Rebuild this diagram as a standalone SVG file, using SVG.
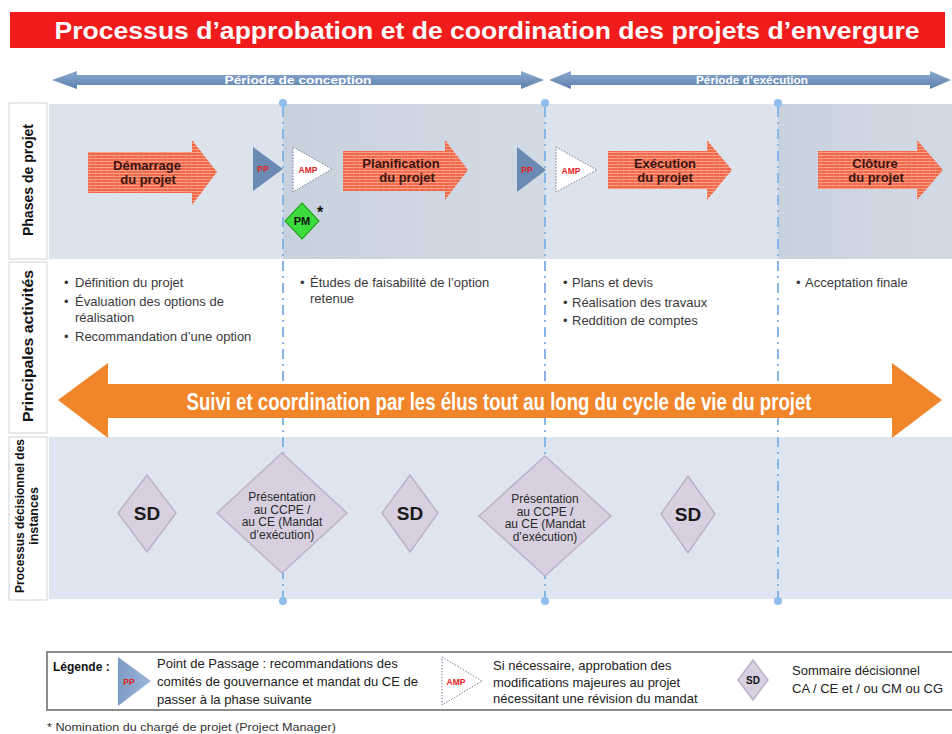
<svg xmlns="http://www.w3.org/2000/svg" width="952" height="734" viewBox="0 0 952 734">
<defs>
<pattern id="stripes" width="6" height="3" patternUnits="userSpaceOnUse">
<rect width="6" height="3" fill="#f1674a"/>
<rect y="2" width="6" height="1" fill="#f8a189"/>
<rect x="5" width="1" height="3" fill="#f58d73" opacity="0.6"/>
</pattern>
<linearGradient id="periodGrad" x1="0" y1="0" x2="0" y2="1">
<stop offset="0" stop-color="#8aa9d0"/><stop offset="1" stop-color="#5f81ad"/>
</linearGradient>
<linearGradient id="darkZone" x1="0" y1="0" x2="1" y2="0">
<stop offset="0" stop-color="#c8d2de"/><stop offset="1" stop-color="#d2dae5"/>
</linearGradient>
<linearGradient id="ppGrad" x1="0" y1="0" x2="1" y2="0">
<stop offset="0" stop-color="#7d9bc4"/><stop offset="1" stop-color="#9db7da"/>
</linearGradient>
</defs>
<style>
text{font-family:"Liberation Sans",Arial,Helvetica,sans-serif}
.lbl{font-weight:bold;fill:#111;text-anchor:middle}
.act{font-size:13px;fill:#3a3a3a}
.phase{font-weight:bold;font-size:13px;fill:#3b1510;text-anchor:middle}
.sd{font-size:19px;font-weight:bold;fill:#1a1a1a;text-anchor:middle}
.pres{font-size:12px;fill:#2a2a2a;text-anchor:middle}
.diamond{fill:#d8cfe0;stroke:#bdb3c9;stroke-width:1.5}
.pp{fill:#6b8ab3}
.amp{fill:#fff;stroke:#6f7f95;stroke-width:1;stroke-dasharray:1.5 1.5}
.red{fill:#e3221e;font-weight:bold;text-anchor:middle}
.divider{stroke:#86b6e8;stroke-width:2;stroke-dasharray:10 5 2 5;fill:none}
.dot{fill:#8ebdee}
.arrowPhase{fill:url(#stripes)}
.period{fill:url(#periodGrad)}
.ptext{font-size:11px;font-weight:bold;fill:#fff;text-anchor:middle}
.leg{font-size:13px;fill:#222}
.box{fill:#fff;stroke:#d2d2d2;stroke-width:1}
</style>

<g id="title">
<rect x="10" y="12" width="935" height="36" fill="#f01c1c"/>
<text x="487" y="39" font-size="24" font-weight="bold" fill="#fff" text-anchor="middle" textLength="865" lengthAdjust="spacingAndGlyphs">Processus d’approbation et de coordination des projets d’envergure</text>
</g>

<g id="periode-conception">
<path class="period" d="M52,80 L77,71 V75 H521 V71 L544,80 L521,89 V85 H77 V89 Z"/>
<text class="ptext" x="298" y="84" textLength="147" lengthAdjust="spacingAndGlyphs">Période de conception</text>
</g>
<g id="periode-execution">
<path class="period" d="M549,80 L571,71 V75 H930 V71 L951,80 L930,89 V85 H571 V89 Z"/>
<text class="ptext" x="752" y="84" textLength="112" lengthAdjust="spacingAndGlyphs">Période d’exécution</text>
</g>

<g id="lanes">
<rect x="49" y="104" width="903" height="155" fill="#dce3ec"/>
<rect x="283" y="104" width="262" height="155" fill="url(#darkZone)"/>
<rect x="778" y="104" width="174" height="155" fill="url(#darkZone)"/>
<rect x="49" y="437" width="903" height="162" fill="#dee5f0"/>
<rect class="box" x="9" y="103" width="38" height="156"/>
<rect class="box" x="9" y="262" width="38" height="171"/>
<rect class="box" x="9" y="437" width="38" height="163"/>
<text class="lbl" font-size="14" transform="translate(33,180) rotate(-90)">Phases de projet</text>
<text class="lbl" font-size="14" transform="translate(33,346) rotate(-90)" textLength="152" lengthAdjust="spacingAndGlyphs">Principales activités</text>
<text class="lbl" font-size="12.5" transform="translate(24,516) rotate(-90)" textLength="154" lengthAdjust="spacingAndGlyphs">Processus décisionnel des</text>
<text class="lbl" font-size="12.5" transform="translate(38,516) rotate(-90)">instances</text>
</g>

<g id="connectors">
<line class="divider" x1="283" y1="107" x2="283" y2="598"/>
<line class="divider" x1="545" y1="107" x2="545" y2="598"/>
<line class="divider" x1="778" y1="107" x2="778" y2="598"/>
<circle class="dot" cx="283" cy="103" r="4"/>
<circle class="dot" cx="545" cy="103" r="4"/>
<circle class="dot" cx="778" cy="103" r="4"/>
<circle class="dot" cx="283" cy="601" r="4"/>
<circle class="dot" cx="545" cy="601" r="4"/>
<circle class="dot" cx="778" cy="601" r="4"/>
</g>

<g id="demarrage">
<path class="arrowPhase" d="M88,152 H192 V140 L217,172 L192,205 V193 H88 Z"/>
<text class="phase" x="147" y="170">Démarrage</text>
<text class="phase" x="148" y="184">du projet</text>
</g>
<g id="planification">
<path class="arrowPhase" d="M343,151 H445 V140 L468,170 L445,200 V191 H343 Z"/>
<text class="phase" x="401" y="167.5">Planification</text>
<text class="phase" x="407" y="181.5">du projet</text>
</g>
<g id="execution">
<path class="arrowPhase" d="M608,151 H707 V140 L732,170 L707,200 V189 H608 Z"/>
<text class="phase" x="665" y="167.5">Exécution</text>
<text class="phase" x="665" y="181.5">du projet</text>
</g>
<g id="cloture">
<path class="arrowPhase" d="M818,151 H917 V140 L943,170 L917,200 V189 H818 Z"/>
<text class="phase" x="875" y="167.5">Clôture</text>
<text class="phase" x="876" y="181.5">du projet</text>
</g>

<g id="pp1">
<path class="pp" d="M253,147 L283,169 L253,191 Z"/>
<text class="red" x="263" y="172" font-size="8.5">PP</text>
</g>
<g id="amp1">
<path class="amp" d="M293,147 L332,169 L293,192 Z"/>
<text class="red" x="308" y="172.5" font-size="8.5">AMP</text>
</g>
<g id="pm">
<path d="M302,203 L319,221 L302,239 L285,221 Z" fill="#3ddc3d" stroke="#23a523" stroke-width="1.2"/>
<text x="302" y="225" font-size="11" font-weight="bold" fill="#111" text-anchor="middle">PM</text>
<text x="320" y="218" font-size="16" font-weight="bold" fill="#111" text-anchor="middle">*</text>
</g>
<g id="pp2">
<path class="pp" d="M517,147 L546,170 L517,192 Z"/>
<text class="red" x="527" y="173" font-size="8.5">PP</text>
</g>
<g id="amp2">
<path class="amp" d="M556,147 L597,170 L556,192 Z"/>
<text class="red" x="571" y="173.5" font-size="8.5">AMP</text>
</g>

<g id="activites-conception">
<text class="act" x="64" y="287">•</text><text class="act" x="75" y="287">Définition du projet</text>
<text class="act" x="64" y="306">•</text><text class="act" x="75" y="306">Évaluation des options de</text>
<text class="act" x="75" y="322">réalisation</text>
<text class="act" x="64" y="341">•</text><text class="act" x="75" y="341">Recommandation d’une option</text>
</g>
<g id="activites-planification">
<text class="act" x="300" y="287">•</text><text class="act" x="310" y="287">Études de faisabilité de l’option</text>
<text class="act" x="310" y="303">retenue</text>
</g>
<g id="activites-execution">
<text class="act" x="563" y="287">•</text><text class="act" x="572" y="287">Plans et devis</text>
<text class="act" x="563" y="306.5">•</text><text class="act" x="572" y="306.5">Réalisation des travaux</text>
<text class="act" x="563" y="325">•</text><text class="act" x="572" y="325">Reddition de comptes</text>
</g>
<g id="activites-cloture">
<text class="act" x="796" y="287">•</text><text class="act" x="805" y="287">Acceptation finale</text>
</g>

<g id="suivi">
<path d="M58,400 L108,363 V384 H892 V363 L942,400 L892,438 V418 H108 V438 Z" fill="#f0852a"/>
<text x="499" y="410" font-size="24" font-weight="bold" fill="#fff" text-anchor="middle" textLength="625" lengthAdjust="spacingAndGlyphs">Suivi et coordination par les élus tout au long du cycle de vie du projet</text>
</g>

<g id="sd1">
<path class="diamond" d="M147,475 L176,513 L147,552 L118,513 Z"/>
<text class="sd" x="147" y="520">SD</text>
</g>
<g id="presentation1">
<path class="diamond" d="M282,453 L347,513 L282,573 L217,513 Z"/>
<text class="pres" x="282" y="501">Présentation</text>
<text class="pres" x="282" y="513.5">au CCPE /</text>
<text class="pres" x="282" y="526">au CE (Mandat</text>
<text class="pres" x="282" y="538.5">d’exécution)</text>
</g>
<g id="sd2">
<path class="diamond" d="M410,475 L438,513 L410,552 L382,513 Z"/>
<text class="sd" x="410" y="520">SD</text>
</g>
<g id="presentation2">
<path class="diamond" d="M545,456 L611,516 L545,576 L479,516 Z"/>
<text class="pres" x="545" y="503">Présentation</text>
<text class="pres" x="545" y="515.5">au CCPE /</text>
<text class="pres" x="545" y="528">au CE (Mandat</text>
<text class="pres" x="545" y="540.5">d’exécution)</text>
</g>
<g id="sd3">
<path class="diamond" d="M688,476 L715,514 L688,553 L661,514 Z"/>
<text class="sd" x="688" y="521">SD</text>
</g>

<g id="legende">
<rect x="47" y="652" width="912" height="58" fill="#fff" stroke="#8c8c8c" stroke-width="2"/>
<text x="53" y="671" font-size="12" font-weight="bold" fill="#111">Légende :</text>
<path d="M118,657 L151,681 L118,706 Z" fill="url(#ppGrad)"/>
<text class="red" x="129" y="685" font-size="8.5">PP</text>
<text class="leg" x="157" y="667.5">Point de Passage : recommandations des</text>
<text class="leg" x="157" y="685.5">comités de gouvernance et mandat du CE de</text>
<text class="leg" x="157" y="703.5">passer à la phase suivante</text>
<path class="amp" d="M442,657 L482,681 L442,705 Z"/>
<text class="red" x="456" y="684.5" font-size="8.5">AMP</text>
<text class="leg" x="493" y="669.5">Si nécessaire, approbation des</text>
<text class="leg" x="493" y="686.5">modifications majeures au projet</text>
<text class="leg" x="493" y="703">nécessitant une révision du mandat</text>
<path class="diamond" d="M753,660 L768,680 L753,700 L738,680 Z"/>
<text x="753" y="684" font-size="10" font-weight="bold" fill="#111" text-anchor="middle">SD</text>
<text class="leg" x="792" y="674.5">Sommaire décisionnel</text>
<text class="leg" x="792" y="692.5">CA / CE et / ou CM ou CG</text>
</g>

<text x="47" y="731" font-size="11.5" fill="#333" textLength="289" lengthAdjust="spacingAndGlyphs">* Nomination du chargé de projet (Project Manager)</text>
</svg>
